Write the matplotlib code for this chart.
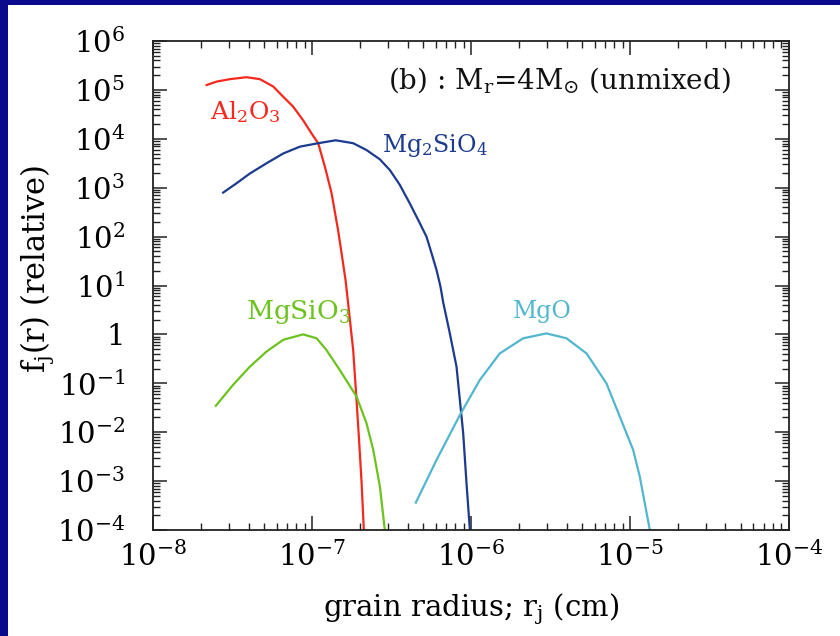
import numpy as np
import matplotlib.pyplot as plt
from matplotlib.ticker import LogLocator, FuncFormatter, NullFormatter
from matplotlib.patches import Rectangle

plt.rcParams['font.family'] = 'DejaVu Serif'
plt.rcParams['mathtext.fontset'] = 'dejavuserif'

# curves, log10 of radius (cm) and log10 of f_j(r)
al2o3_logr = [-7.662, -7.599, -7.516, -7.411, -7.327, -7.243, -7.180, -7.118, -7.055, -7.002,
              -6.960, -6.918, -6.876, -6.835, -6.813, -6.788, -6.772, -6.740, -6.719, -6.703,
              -6.687, -6.673]
al2o3_logf = [5.10, 5.17, 5.22, 5.26, 5.22, 5.07, 4.86, 4.66, 4.38, 4.11,
              3.91, 3.43, 2.89, 2.13, 1.66, 1.11, 0.64, -0.32, -1.34, -2.16,
              -3.04, -4.0]

mg2sio4_logr = [-7.558, -7.474, -7.390, -7.285, -7.180, -7.075, -6.960, -6.850, -6.740, -6.656,
                -6.572, -6.509, -6.447, -6.384, -6.331, -6.279, -6.247, -6.216, -6.191, -6.174,
                -6.132, -6.090, -6.069, -6.048, -6.027, -6.006]
mg2sio4_logf = [2.90, 3.09, 3.29, 3.50, 3.70, 3.84, 3.91, 3.97, 3.91, 3.77,
                3.58, 3.36, 3.06, 2.68, 2.34, 2.00, 1.66, 1.32, 0.98, 0.66,
                0.02, -0.66, -1.34, -2.02, -3.05, -4.0]

mgsio3_logr = [-7.604, -7.495, -7.390, -7.285, -7.180, -7.055, -6.970, -6.908, -6.824, -6.719,
               -6.656, -6.614, -6.572, -6.541]
mgsio3_logf = [-1.46, -1.03, -0.66, -0.35, -0.11, 0.00, -0.08, -0.32, -0.73, -1.27,
               -1.82, -2.36, -3.11, -4.0]

mgo_logr = [-6.346, -6.216, -6.069, -5.943, -5.818, -5.671, -5.524, -5.398, -5.272, -5.147,
            -5.063, -4.979, -4.937, -4.874]
mgo_logf = [-3.44, -2.57, -1.65, -0.93, -0.39, -0.08, 0.02, -0.08, -0.39, -1.00,
            -1.68, -2.36, -2.91, -4.0]

fig = plt.figure(figsize=(8.4, 6.36), dpi=100, facecolor='white')
# blue slide edges around the scanned page
fig.patches.append(Rectangle((0, 0), 8/840, 1, transform=fig.transFigure,
                             facecolor='#0a0a8c', edgecolor='none', zorder=-5))
fig.patches.append(Rectangle((0, 1 - 5/636), 1, 5/636, transform=fig.transFigure,
                             facecolor='#0a0a8c', edgecolor='none', zorder=-5))
ax = fig.add_axes([0.182, 0.1667, 0.757, 0.7688])
ax.set_facecolor('white')

ax.plot(10**np.array(al2o3_logr), 10**np.array(al2o3_logf), color='#f5281e', lw=1.6)
ax.plot(10**np.array(mg2sio4_logr), 10**np.array(mg2sio4_logf), color='#1c3a8e', lw=1.6)
ax.plot(10**np.array(mgsio3_logr), 10**np.array(mgsio3_logf), color='#6cc21e', lw=1.6)
ax.plot(10**np.array(mgo_logr), 10**np.array(mgo_logf), color='#52b6cf', lw=1.6)

ax.set_xscale('log')
ax.set_yscale('log')
ax.set_xlim(1e-8, 1e-4)
ax.set_ylim(1e-4, 1e6)

ax.xaxis.set_major_locator(LogLocator(base=10, numticks=10))
ax.yaxis.set_major_locator(LogLocator(base=10, numticks=20))
ax.xaxis.set_minor_locator(LogLocator(base=10, subs=np.arange(2, 10), numticks=20))
ax.yaxis.set_minor_locator(LogLocator(base=10, subs=np.arange(2, 10), numticks=20))
ax.xaxis.set_minor_formatter(NullFormatter())
ax.yaxis.set_minor_formatter(NullFormatter())


def fmt(v, pos):
    e = int(round(np.log10(v)))
    if e == 0:
        return '1'
    return r'$10^{%d}$' % e


ax.xaxis.set_major_formatter(FuncFormatter(fmt))
ax.yaxis.set_major_formatter(FuncFormatter(fmt))
ax.tick_params(which='both', direction='in', top=True, right=True, labelsize=21, color='#222222')
ax.tick_params(which='major', length=10, width=1.1)
ax.tick_params(which='minor', length=5, width=1.0)
ax.tick_params(axis='x', pad=8)
ax.tick_params(axis='y', pad=20)
for s in ax.spines.values():
    s.set_linewidth(1.3)
    s.set_color('#222222')

ax.set_xlabel(r'grain radius; r$_{\rm j}$ (cm)', fontsize=21, labelpad=14)
ax.set_ylabel(r'f$_{\rm j}$(r) (relative)', fontsize=22)
ax.yaxis.set_label_coords(-0.152, 0.535)

ax.text(0.37, 0.92, r'(b) : M$_{\rm r}$=4M$_{\odot}$ (unmixed)', transform=ax.transAxes,
        fontsize=20, ha='left', va='center', color='#111111')
ax.text(0.09, 0.855, r'Al$_2$O$_3$', transform=ax.transAxes, fontsize=18,
        ha='left', va='center', color='#f5281e')
ax.text(0.36, 0.787, r'Mg$_2$SiO$_4$', transform=ax.transAxes, fontsize=17,
        ha='left', va='center', color='#1c3a8e')
ax.text(0.146, 0.446, r'MgSiO$_3$', transform=ax.transAxes, fontsize=19,
        ha='left', va='center', color='#6cc21e')
ax.text(0.566, 0.446, 'MgO', transform=ax.transAxes, fontsize=17,
        ha='left', va='center', color='#52b6cf')

plt.savefig('out.png', dpi=100, facecolor=fig.get_facecolor())
